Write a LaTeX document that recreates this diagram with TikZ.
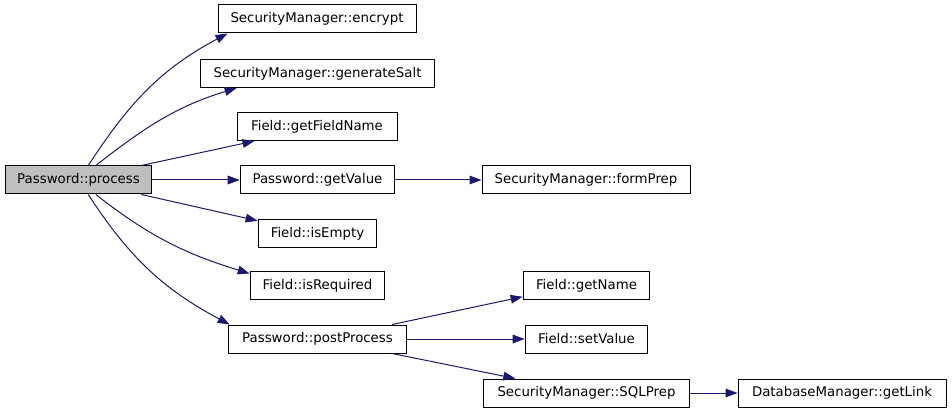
\documentclass[tikz,border=0pt]{standalone}
\usepackage{fontspec}
\setmainfont{DejaVu Sans}
\usetikzlibrary{arrows.meta,calc}
\definecolor{callBlue}{HTML}{191970}
\definecolor{rootGray}{HTML}{BFBFBF}

\begin{document}
\begin{tikzpicture}[x=0.75pt, y=-0.75pt,
    every node/.style={font=\fontsize{10}{12}\selectfont, inner sep=0pt},
    fn/.style={draw, line width=0.75pt, fill=white, minimum height=21pt},
    call/.style={draw=callBlue, line width=0.75pt, -{Triangle[length=9pt, width=6.5pt, fill=callBlue]}}]
        \useasboundingbox (0,0) rectangle (952,413);
        % callers on the left, callees to the right
        \node[fn, fill=rootGray, minimum width=110pt] (process) at (78.5,180) {Password::process};
        \node[fn, minimum width=148.5pt] (encrypt) at (317,19) {SecurityManager::encrypt};
        \node[fn, minimum width=176pt] (genSalt) at (317.5,73.5) {SecurityManager::generateSalt};
        \node[fn, minimum width=120pt] (getFieldName) at (317,126.5) {Field::getFieldName};
        \node[fn, minimum width=116pt] (getValue) at (317.5,180) {Password::getValue};
        \node[fn, minimum width=156pt] (formPrep) at (586,180) {SecurityManager::formPrep};
        \node[fn, minimum width=89pt] (isEmpty) at (317.5,233.5) {Field::isEmpty};
        \node[fn, minimum width=101pt] (isRequired) at (317.5,285.5) {Field::isRequired};
        \node[fn, minimum width=134pt] (postProcess) at (317.5,339) {Password::postProcess};
        \node[fn, minimum width=95pt] (getName) at (586.5,285.5) {Field::getName};
        \node[fn, minimum width=92pt] (setValue) at (586.5,339) {Field::setValue};
        \node[fn, minimum width=154pt] (sqlPrep) at (586.5,393) {SecurityManager::SQLPrep};
        \node[fn, minimum width=156pt] (getLink) at (842,393) {DatabaseManager::getLink};

        \draw[call] (process.56) to[out=57, in=208] ($(encrypt.south west)+(10,0)$);
        \draw[call] (process.40) to[out=38, in=197] ($(genSalt.south west)+(37,0)$);
        \draw[call] (process.13) -- ($(getFieldName.south west)+(18,0)$);
        \draw[call] (process.east) -- (getValue.west);
        \draw[call] (getValue.east) -- (formPrep.west);
        \draw[call] (process.-13) -- (isEmpty.168);
        \draw[call] (process.-40) to[out=-38, in=163] (isRequired.170);
        \draw[call] (process.-56) to[out=-57, in=152] ($(postProcess.north west)+(2,0)$);
        \draw[call] (postProcess.11) -- (getName.190);
        \draw[call] (postProcess.east) -- (setValue.west);
        \draw[call] (postProcess.-11) -- ($(sqlPrep.north west)+(32,0)$);
        \draw[call] (sqlPrep.east) -- (getLink.west);
    \end{tikzpicture}
\end{document}
